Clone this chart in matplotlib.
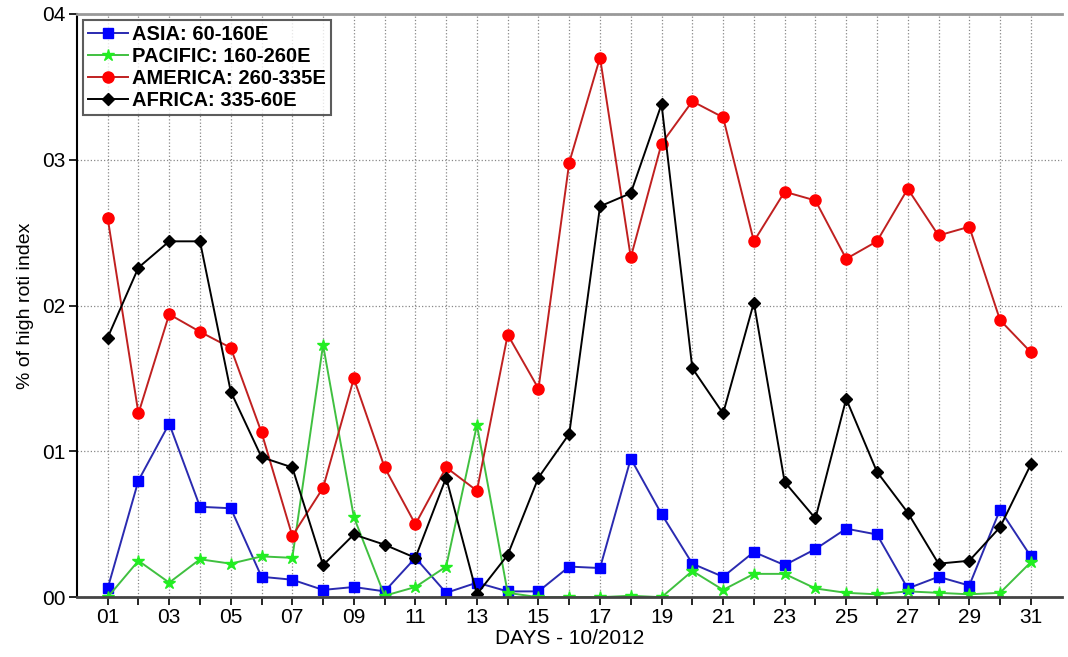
import numpy as np
import matplotlib
matplotlib.use("Agg")
import matplotlib.pyplot as plt

plt.rcParams['font.family'] = ['Liberation Sans', 'DejaVu Sans']

# datos
days = np.arange(1, 32)
asia = [0.0006, 0.0080, 0.0119, 0.0062, 0.0061, 0.0014, 0.0012, 0.0005, 0.0007, 0.0004,
        0.0027, 0.0003, 0.0010, 0.0004, 0.0004, 0.0021, 0.0020, 0.0095, 0.0057, 0.0023,
        0.0014, 0.0031, 0.0022, 0.0033, 0.0047, 0.0043, 0.0006, 0.0014, 0.0008, 0.0060, 0.0028]
pacific = [0.0, 0.0025, 0.0010, 0.0026, 0.0023, 0.0028, 0.0027, 0.0173, 0.0055, 0.0001,
           0.0007, 0.0021, 0.0118, 0.0003, 0.0, 0.0, 0.0, 0.0001, 0.0, 0.0018,
           0.0005, 0.0016, 0.0016, 0.0006, 0.0003, 0.0002, 0.0004, 0.0003, 0.0002, 0.0003, 0.0024]
america = [0.0260, 0.0126, 0.0194, 0.0182, 0.0171, 0.0113, 0.0042, 0.0075, 0.0150, 0.0089,
           0.0050, 0.0089, 0.0073, 0.0180, 0.0143, 0.0298, 0.0370, 0.0233, 0.0311, 0.0340,
           0.0329, 0.0244, 0.0278, 0.0272, 0.0232, 0.0244, 0.0280, 0.0248, 0.0254, 0.0190, 0.0168]
africa = [0.0178, 0.0226, 0.0244, 0.0244, 0.0141, 0.0096, 0.0089, 0.0022, 0.0043, 0.0036,
          0.0027, 0.0082, 0.0002, 0.0029, 0.0082, 0.0112, 0.0268, 0.0277, 0.0338, 0.0157,
          0.0126, 0.0202, 0.0079, 0.0054, 0.0136, 0.0086, 0.0058, 0.0023, 0.0025, 0.0048, 0.0091]

labels = ['ASIA: 60-160E', 'PACIFIC: 160-260E', 'AMERICA: 260-335E', 'AFRICA: 335-60E']
yticks = [0.0, 0.01, 0.02, 0.03, 0.04]
ytick_labels = ['00', '01', '02', '03', '04']

fig = plt.figure(figsize=(10.68, 6.57), dpi=100)
ax = fig.add_axes([0.072, 0.091, 0.922, 0.888])

ax.plot(days, asia, '-s', color='#2a2ab0', mfc='#0000ff', mec='#0000ff', ms=7, lw=1.4, label=labels[0])
ax.plot(days, pacific, '-*', color='#40c040', mfc='#22ee22', mec='#22ee22', ms=9, lw=1.4, label=labels[1])
ax.plot(days, america, '-o', color='#c02020', mfc='#ff0000', mec='#ff0000', ms=8, lw=1.4, label=labels[2])
ax.plot(days, africa, '-D', color='black', mfc='black', mec='black', ms=6, lw=1.4, label=labels[3])

ax.set_xlim(0, 32)
ax.set_ylim(0, 0.04)
ax.set_xticks(days)
ax.set_xticklabels(['%02d' % d if d % 2 == 1 else '' for d in days], fontsize=15)
ax.set_yticks(yticks)
ax.set_yticklabels(ytick_labels, fontsize=15)
ax.tick_params(direction='out', length=6, width=1.2, pad=2)

ax.grid(True, linestyle=':', color='#888888', lw=0.9)

ax.spines['right'].set_visible(False)
ax.spines['top'].set_color('#999999')
ax.spines['top'].set_linewidth(2)
ax.spines['bottom'].set_color('#444444')
ax.spines['bottom'].set_linewidth(2)
ax.spines['left'].set_linewidth(1.5)

ax.set_xlabel('DAYS - 10/2012', fontsize=15, labelpad=1)
ax.set_ylabel('% of high roti index', fontsize=14, labelpad=6)

leg = ax.legend(loc='upper left', fontsize=14.5, frameon=True, fancybox=False,
                edgecolor='#333333', handlelength=2.0, handletextpad=0.2,
                borderaxespad=0.3, labelspacing=0.15, borderpad=0.25)
leg.get_frame().set_linewidth(1.5)
for t in leg.get_texts():
    t.set_fontweight('bold')

fig.savefig('out.png', dpi=100)
